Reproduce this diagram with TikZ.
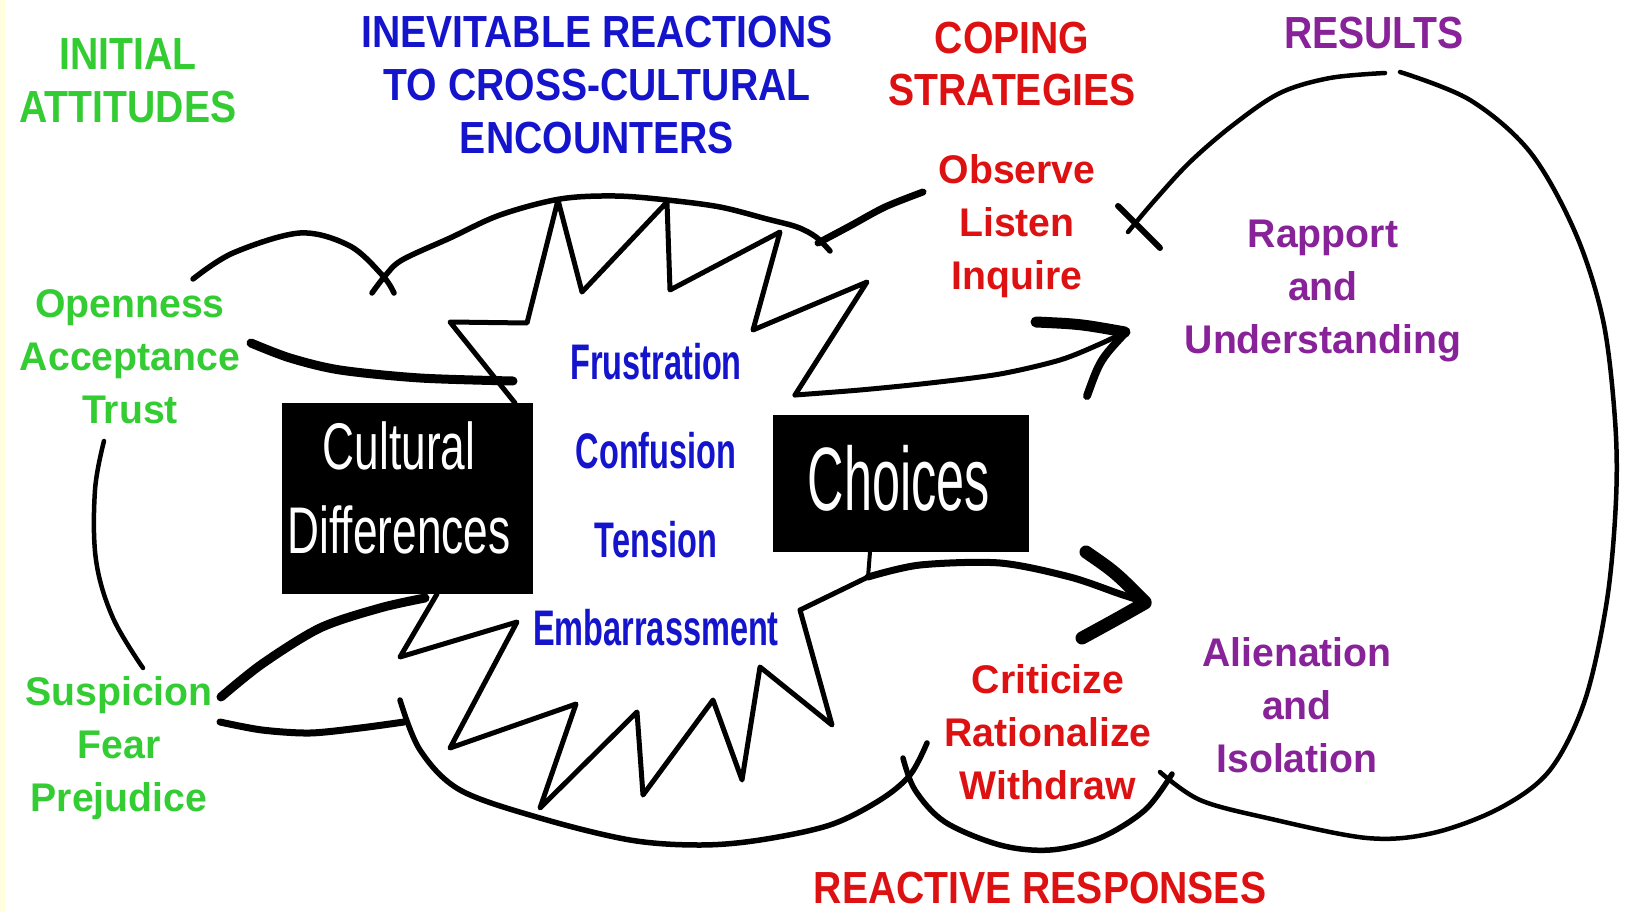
\documentclass[tikz,border=0pt]{standalone}
\usepackage{fontspec}
\setmainfont{Liberation Sans}
\newfontfamily\ttlfont{Liberation Sans}[FakeStretch=0.87]
\newfontfamily\lblfont{Liberation Sans}[FakeStretch=0.98]
\newfontfamily\emofont{Liberation Sans}[FakeStretch=0.65]
\newfontfamily\boxfont{Liberation Sans}[FakeStretch=0.67]
\newfontfamily\chfont{Liberation Sans}[FakeStretch=0.56]
\definecolor{cgreen}{RGB}{51,204,51}
\definecolor{cblue}{RGB}{20,20,204}
\definecolor{cred}{RGB}{221,17,17}
\definecolor{cpurple}{RGB}{136,34,153}
\definecolor{stripyellow}{RGB}{255,255,224}
\tikzset{
  ttl/.style={font=\ttlfont\bfseries\fontsize{45}{53}\selectfont, align=center, inner sep=0pt},
  lbl/.style={font=\lblfont\bfseries\fontsize{40}{53}\selectfont, align=center, inner sep=0pt},
  emo/.style={font=\emofont\bfseries\fontsize{50}{54}\selectfont, text=cblue, inner sep=0pt},
  blk/.style={fill=black, draw=none, inner sep=0pt, anchor=north west},
  ink/.style={line width=5.5pt, line cap=round, line join=round},
  thin ink/.style={line width=4.5pt, line cap=round, line join=round},
  zig/.style={line width=5pt, line cap=round, line join=round},
  heavy/.style={line width=9pt, line cap=round, line join=round},
}
\begin{document}
\begin{tikzpicture}[x=1pt,y=-1pt]
\useasboundingbox (0,0) rectangle (1627,912);
\fill[white] (0,0) rectangle (1627,912);
\fill[stripyellow] (0,0) rectangle (5,912);

% headings
\node[ttl, text=cgreen] (hInit) at (128,80.5) {INITIAL\\ATTITUDES};
\node[ttl, text=cblue] (hInev) at (597,85) {INEVITABLE REACTIONS\\TO CROSS-CULTURAL\\ENCOUNTERS};
\node[ttl, text=cred, font=\ttlfont\bfseries\fontsize{45}{52}\selectfont] (hCope) at (1012,64) {COPING\\STRATEGIES};
\node[ttl, text=cpurple] (hRes) at (1374,33) {RESULTS};
\node[ttl, text=cred] (hReact) at (1040,888) {REACTIVE RESPONSES};

% labels
\node[lbl, text=cgreen] (open) at (130,357) {Openness\\Acceptance\\Trust};
\node[lbl, text=cgreen] (susp) at (119,748) {Suspicion\\Fear\\Prejudice};
\node[lbl, text=cred] (obs) at (1017,226) {Observe\\Listen\\Inquire};
\node[lbl, text=cpurple] (rap) at (1323,291) {Rapport\\and\\Understanding};
\node[lbl, text=cpurple] (ali) at (1297,705) {Alienation\\and\\Isolation};
\node[lbl, text=cred] (crit) at (1048,732) {Criticize\\Rationalize\\Withdraw};

% black boxes
\node[blk, minimum width=251pt, minimum height=191pt] (cdbox) at (282,403) {};
\node[font=\boxfont\fontsize{66}{84}\selectfont, text=white, align=center, inner sep=0pt] (cdtext) at (399,488) {Cultural\\Differences};
\node[blk, minimum width=256pt, minimum height=137pt] (chbox) at (773,415) {};
\node[font=\chfont\fontsize{90}{90}\selectfont, text=white, inner sep=0pt] (chtext) at (899,478) {Choices};

% reactions
\node[emo] (e1) at (656,362) {Frustration};
\node[emo] (e2) at (656,451) {Confusion};
\node[emo] (e3) at (656,540) {Tension};
\node[emo] (e4) at (656,628) {Embarrassment};

% top arcs from Openness to Observe
\draw[ink] plot[smooth,tension=0.55] coordinates {(193,279) (233,253) (300,233) (350,246) (383,276) (394,293)};
\draw[ink] plot[smooth,tension=0.55] coordinates {(372,293) (385,276) (402,260) (450,238) (500,215) (560,199) (615,196) (667,200) (720,207) (767,219) (797,227) (816,237) (830,251)};
\draw[heavy, line width=7pt] plot[smooth,tension=0.5] coordinates {(818,243) (850,226) (885,207) (923,192)};
% Acceptance thick line
\draw[heavy] plot[smooth,tension=0.5] coordinates {(251,343) (290,358) (340,370) (420,378) (513,381)};

% upper zigzag
\draw[zig] (515,403) -- (450,322) -- (527,323) -- (558,200) -- (582,292) -- (667,202) -- (670,290) -- (780,232) -- (753,330) -- (867,282) -- (795,395);
% upper arrow
\draw[zig] plot[smooth,tension=0.5] coordinates {(795,395) (860,390) (930,383) (1000,374) (1060,360) (1100,344) (1125,332)};
\draw[line width=11pt, line cap=round] (1036,322) .. controls (1080,324) .. (1125,332);
\draw[line width=8pt, line cap=round] (1125,333) .. controls (1100,360) .. (1087,396);

% Trust to Suspicion
\draw[thin ink] plot[smooth,tension=0.6] coordinates {(104,441) (95,490) (96,560) (113,618) (143,668)};
% Suspicion lines
\draw[heavy] plot[smooth,tension=0.5] coordinates {(221,697) (262,664) (320,628) (380,608) (425,598)};
\draw[ink, line width=7pt] plot[smooth,tension=0.5] coordinates {(220,722) (262,730) (310,733) (360,728) (404,722)};

% lower zigzag
\draw[zig] (437,594) -- (400,657) -- (517,622) -- (450,748) -- (576,704) -- (540,808) -- (637,712) -- (643,795) -- (713,700) -- (742,780) -- (760,667) -- (832,725) -- (800,610) -- (868,577);
% lower arrow
\draw[zig, line width=4pt] (870,552) -- (868,577);
\draw[ink, line width=7pt] plot[smooth,tension=0.5] coordinates {(868,577) (920,565) (1000,563) (1070,577) (1120,594) (1145,602)};
\draw[line width=13pt, line cap=round] (1086,552) .. controls (1115,572) .. (1145,602);
\draw[line width=13pt, line cap=round] (1145,603) .. controls (1115,620) .. (1082,638);

% bottom arc under the reactions
\draw[ink] plot[smooth,tension=0.55] coordinates {(400,700) (420,750) (460,790) (540,818) (630,840) (700,845) (760,840) (830,825) (880,800) (910,775) (927,743)};
% arc under reactive responses
\draw[ink] plot[smooth,tension=0.55] coordinates {(903,758) (915,790) (945,822) (1000,845) (1050,850) (1100,838) (1145,810) (1172,774)};
% big results loop
\draw[thin ink] plot[smooth,tension=0.55] coordinates {(1160,772) (1200,800) (1267,818) (1367,838) (1433,833) (1500,808) (1550,770) (1585,700) (1607,600) (1616,500) (1615,420) (1603,320) (1575,232) (1530,152) (1470,100) (1400,72)};
\draw[thin ink] plot[smooth,tension=0.55] coordinates {(1385,73) (1330,78) (1280,93) (1233,125) (1190,162) (1155,200) (1128,232)};
\draw[thin ink, line width=6pt] (1118,206) -- (1160,248);
\end{tikzpicture}
\end{document}
